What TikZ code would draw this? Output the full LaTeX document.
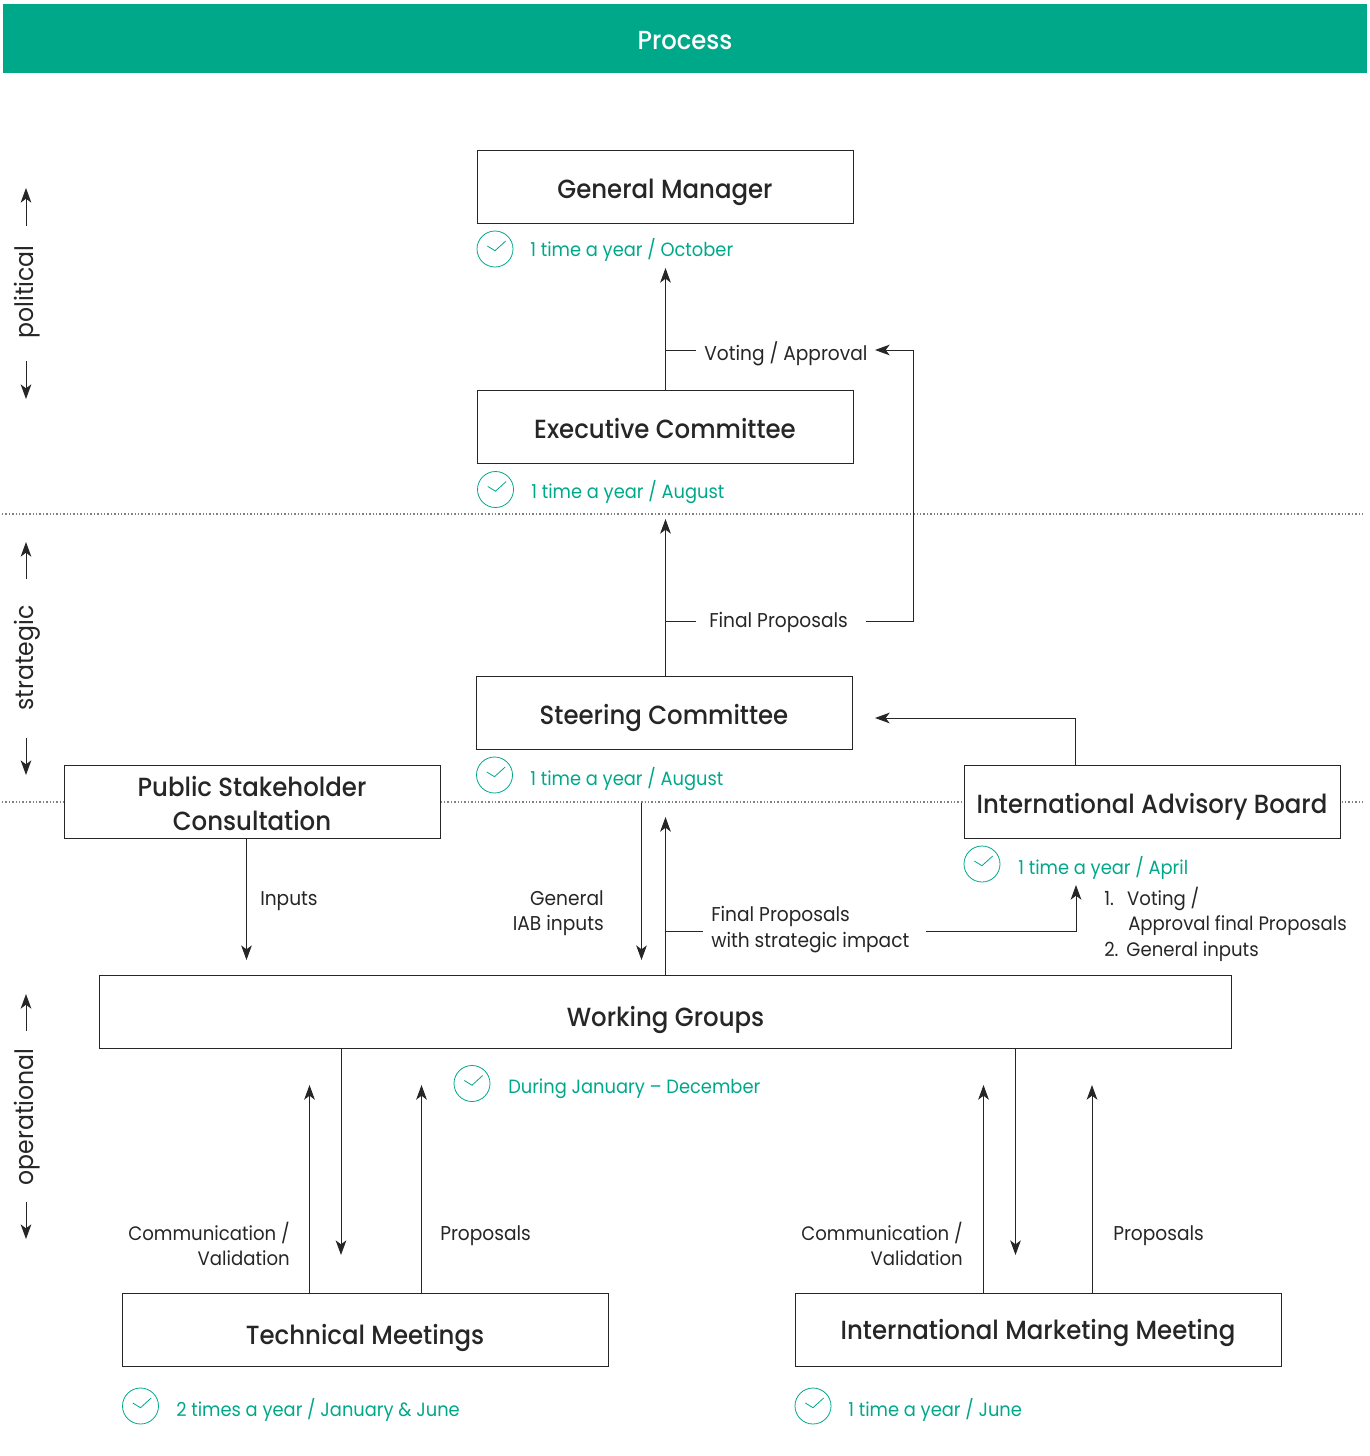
\documentclass[tikz,border=0pt]{standalone}
\usepackage{fontspec}
\setmainfont{Poppins}[FakeStretch=0.93]
\newfontfamily\titlefont{Poppins}[FakeStretch=0.93, UprightFont=* Medium]
\usetikzlibrary{arrows.meta}
\definecolor{procgreen}{HTML}{00A88A}
\definecolor{inkdark}{HTML}{262626}

\begin{document}
\begin{tikzpicture}[
    x=0.75pt, y=-0.75pt,
    color=inkdark,
    box/.style={rectangle, draw=inkdark, fill=white, line width=0.75pt,
        minimum width=282pt, minimum height=55pt, inner sep=0pt, align=center,
        text height=17.25pt, text depth=0pt,
        font=\titlefont\fontsize{19.7}{25.5}\selectfont},
    when/.style={text=procgreen, anchor=west, inner sep=0pt,
        font=\fontsize{14.4}{18}\selectfont},
    clock/.style={circle, draw=procgreen, line width=0.6pt, minimum size=27pt,
        inner sep=0pt, path picture={
            \draw[procgreen, line width=0.6pt] ([shift={(-7.7,-3)}]path picture bounding box.center)
                -- ++(7.7,4.7) -- ++(10.7,-9.7);}},
    label/.style={inner sep=0pt, align=left, font=\fontsize{15}{19}\selectfont},
    tightlabel/.style={label, font=\fontsize{14.6}{19}\selectfont},
    side/.style={rotate=90, inner sep=0pt, font=\fontsize{19}{23}\selectfont},
    link/.style={draw=inkdark, line width=0.75pt},
    arrow/.style={link, -{Stealth[length=11pt, width=8pt, inset=3pt]}},
    level/.style={draw=black!50, line width=0.9pt, dash pattern=on 1.1pt off 1.45pt}
]
    \useasboundingbox (0,0) rectangle (1370,1456);

    % levels
    \coordinate (lvlaL) at (2,514);
    \coordinate (lvlaR) at (1364,514);
    \coordinate (lvlbL) at (2,802);
    \coordinate (lvlbR) at (1364,802);
    \draw[level] (lvlaL) -- (lvlaR);
    \draw[level] (lvlbL) -- (lvlbR);

    % header
    \node[rectangle, fill=procgreen, text=white, minimum width=1023pt, minimum height=51.75pt,
        inner sep=0pt, text height=16pt, text depth=0pt,
        font=\titlefont\fontsize{19.6}{24}\selectfont] (process) at (685,38.5) {Process};

    % boxes
    \node[box] (gm) at (665,186.7) {General Manager};
    \node[box] (exec) at (665,426.7) {Executive Committee};
    \node[box] (steer) at (664,712.7) {Steering Committee};
    \node[box, text height=43pt] (public) at (252,802) {Public Stakeholder\\Consultation};
    \node[box] (iab) at (1152,801.7) {International Advisory Board};
    \node[box, minimum width=849pt, text height=21.75pt] (wg) at (665.5,1011.7) {Working Groups};
    \node[box, minimum width=364.5pt, text height=21.75pt] (tech) at (365,1329.7) {Technical Meetings};
    \node[box, minimum width=364.5pt, text height=14.25pt] (imm) at (1038,1329.7) {International Marketing Meeting};

    % clocks and dates
    \node[clock] (clockgm) at (495,249) {};
    \node[when] (whengm) at (530,250) {1 time a year / October};
    \node[clock] (clockexec) at (495.5,489.5) {};
    \node[when] (whenexec) at (531,492) {1 time a year / August};
    \node[clock] (clocksteer) at (494.5,775) {};
    \node[when] (whensteer) at (530,779) {1 time a year / August};
    \node[clock] (clockiab) at (982,864) {};
    \node[when] (wheniab) at (1018,868) {1 time a year / April};
    \node[clock] (clockwg) at (472,1083.5) {};
    \node[when] (whenwg) at (508,1088.5) {During January – December};
    \node[clock] (clocktech) at (140.5,1406) {};
    \node[when] (whentech) at (176,1410) {2 times a year / January \& June};
    \node[clock] (clockimm) at (813,1406) {};
    \node[when] (whenimm) at (848,1410) {1 time a year / June};

    % labels
    \node[label, anchor=west] (voting) at (704,354) {Voting / Approval};
    \node[label, anchor=west] (final) at (709,622) {Final Proposals};
    \node[label, anchor=west] (inputs) at (260,901) {Inputs};
    \node[label, anchor=east, align=right] (iabinputs) at (604,913) {General\\IAB inputs};
    \node[label, anchor=west, font=\fontsize{15}{19.5}\selectfont] (strategic) at (711,930) {Final Proposals\\with strategic impact};
    \node[tightlabel, anchor=north west] (items) at (1104,887) {1.\hspace{10pt}Voting /\\\hspace{18pt}Approval final Proposals\\2.\hspace{6pt}General inputs};
    \node[tightlabel, anchor=east, align=right] (commtech) at (290,1244) {Communication /\\Validation};
    \node[label, anchor=west] (proptech) at (440,1235.5) {Proposals};
    \node[tightlabel, anchor=east, align=right] (commimm) at (963,1244) {Communication /\\Validation};
    \node[label, anchor=west] (propimm) at (1113,1235.5) {Proposals};

    % side texts
    \node[side] (political) at (27,292) {political};
    \node[side] (strat) at (27,658) {strategic};
    \node[side] (oper) at (27,1117) {operational};
    \coordinate (politicalA) at (26,226);
    \coordinate (politicalB) at (26,188);
    \coordinate (politicalC) at (26,361);
    \coordinate (politicalD) at (26,399);
    \coordinate (stratA) at (26,579);
    \coordinate (stratB) at (26,542);
    \coordinate (stratC) at (26,738);
    \coordinate (stratD) at (26,775);
    \coordinate (operA) at (26,1031);
    \coordinate (operB) at (26,994);
    \coordinate (operC) at (26,1202);
    \coordinate (operD) at (26,1239);
    \draw[arrow] (politicalA) -- (politicalB);
    \draw[arrow] (politicalC) -- (politicalD);
    \draw[arrow] (stratA) -- (stratB);
    \draw[arrow] (stratC) -- (stratD);
    \draw[arrow] (operA) -- (operB);
    \draw[arrow] (operC) -- (operD);

    % connectors
    \coordinate (gmin) at (665.5,268);
    \coordinate (votingstub) at (696,350);
    \coordinate (votingin) at (875,350);
    \coordinate (execin) at (665.5,519);
    \coordinate (finalstub) at (696,621);
    \coordinate (finalout) at (866,621);
    \coordinate (finalturn) at (913,621);
    \coordinate (steerin) at (875,718);
    \coordinate (iabout) at (1075,718);
    \coordinate (wgup) at (665.5,817);
    \coordinate (strategicstub) at (703,931);
    \coordinate (strategicout) at (926,931);
    \coordinate (iabin) at (1076,885);
    \coordinate (iabstart) at (641.5,803);
    \coordinate (iabend) at (641.5,960);
    \coordinate (publicin) at (246.5,960);
    \coordinate (techdown) at (341,1255);
    \coordinate (techcomm) at (309.5,1085);
    \coordinate (techprop) at (421.5,1085);
    \coordinate (immdown) at (1015.5,1255);
    \coordinate (immcomm) at (983.5,1085);
    \coordinate (immprop) at (1092,1085);
    \draw[arrow] (exec.north -| gmin) -- (gmin);
    \draw[link] (gmin |- votingstub) -- (votingstub);
    \draw[arrow] (steer.north -| execin) -- (execin);
    \draw[link] (execin |- finalstub) -- (finalstub);
    \draw[arrow] (finalout) -- (finalturn) |- (votingin);
    \draw[arrow] (iab.north -| iabout) -- (iabout) -- (steerin);
    \draw[arrow] (wg.north -| wgup) -- (wgup);
    \draw[link] (wgup |- strategicstub) -- (strategicstub);
    \draw[arrow] (strategicout) -| (iabin);
    \draw[arrow] (iabstart) -- (iabend);
    \draw[arrow] (public.south -| publicin) -- (publicin);
    \draw[arrow] (wg.south -| techdown) -- (techdown);
    \draw[arrow] (tech.north -| techcomm) -- (techcomm);
    \draw[arrow] (tech.north -| techprop) -- (techprop);
    \draw[arrow] (wg.south -| immdown) -- (immdown);
    \draw[arrow] (imm.north -| immcomm) -- (immcomm);
    \draw[arrow] (imm.north -| immprop) -- (immprop);
\end{tikzpicture}
\end{document}
